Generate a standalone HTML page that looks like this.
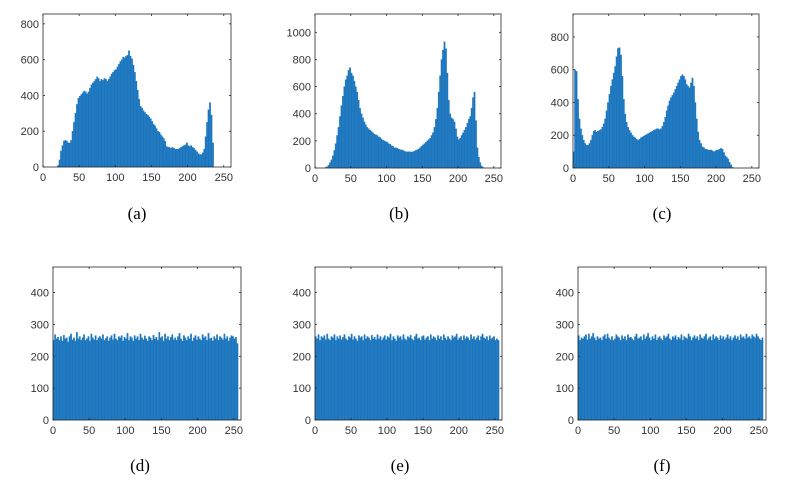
<!DOCTYPE html>
<html><head><meta charset="utf-8"><style>
body{margin:0;background:#fff;width:801px;height:489px;overflow:hidden}
svg{display:block}
</style></head><body>
<svg id="fig" width="801" height="489" xmlns="http://www.w3.org/2000/svg"></svg>
<script>
// bin width 2, bins start at x=0,2,4,...,254 (128 bins)
const binStarts = Array.from({length:128},(_,i)=>i*2);
const xTicks = [0,50,100,150,200,250];
const yTicksA = [0,200,400,600,800];
const yTicksB = [0,200,400,600,800,1000];
const yTicksC = [0,200,400,600,800];
const yTicksBottom = [0,100,200,300,400];
const valuesA = [0,0,0,0,0,0,0,0,0,0,
10,40,90,120,145,150,145,135,135,150,200,250,300,350,385,395,405,415,425,420,410,420,440,460,470,480,490,505,495,480,490,485,495,490,480,490,505,520,530,540,545,560,575,590,600,615,610,620,625,650,620,605,570,530,480,430,380,340,330,315,305,295,290,280,270,255,240,230,215,200,195,180,170,160,145,115,110,110,105,110,105,100,100,100,105,110,115,120,125,135,120,115,120,110,105,95,85,75,70,70,80,100,170,250,320,360,290,135];
const valuesB = [0,0,0,0,0,0,0,
5,10,20,40,60,90,130,180,240,300,380,460,530,600,650,680,720,740,700,680,640,600,560,500,440,400,370,340,320,300,290,280,270,260,250,245,240,230,225,215,205,200,195,190,180,175,165,160,150,150,145,140,135,135,130,125,120,120,120,120,118,120,125,130,135,140,150,160,170,180,190,200,210,220,240,260,300,360,440,560,680,800,870,930,880,700,500,400,370,360,340,290,230,210,220,240,260,280,300,330,360,380,440,520,560,350,150,80,40,15,5];
const valuesC = [100,600,590,420,300,240,200,170,150,140,140,150,170,200,225,230,220,225,230,235,250,270,300,350,400,450,500,540,580,620,680,730,735,690,560,420,330,280,250,230,215,200,190,185,175,170,175,185,190,195,200,205,210,215,220,225,230,235,240,240,235,240,255,280,310,350,380,410,430,445,460,480,500,520,540,560,570,560,540,510,500,490,520,550,500,400,300,220,170,150,130,125,115,115,110,110,110,105,100,105,110,110,115,120,115,95,75,65,55,35,20,5];
const valuesD = [250,268,255,260,250,262,248,266,255,258,245,262,270,252,258,248,275,255,262,250,258,268,250,255,262,248,270,258,252,265,250,258,262,255,268,250,256,262,248,258,265,252,270,255,250,262,258,265,248,260,255,272,250,262,258,248,265,255,262,250,270,258,252,264,255,248,262,258,250,266,255,260,250,275,258,262,248,270,255,262,250,260,268,252,258,250,262,272,255,248,265,258,250,262,255,270,248,258,265,252,262,255,250,268,258,262,250,272,255,258,248,262,255,268,250,262,258,252,270,255,262,248,258,265,262,255,260,240];
const valuesE = [262,255,268,250,262,258,265,252,270,255,250,262,258,268,250,262,255,265,252,260,268,255,250,262,258,270,252,262,255,248,265,258,262,250,268,255,262,258,250,266,255,260,252,268,255,262,250,258,265,252,262,258,270,250,262,255,248,265,258,262,252,268,255,250,262,258,266,255,250,262,270,255,258,250,262,265,252,258,262,250,268,255,262,258,250,265,255,262,250,268,258,252,262,255,250,265,258,262,270,252,258,262,250,265,255,262,258,250,268,255,262,252,258,265,250,262,270,258,255,262,250,265,255,258,262,250,255,250];
const valuesF = [265,250,258,255,262,268,252,270,255,262,272,258,250,262,255,258,250,262,268,255,270,258,252,262,250,255,268,262,258,250,265,255,262,250,268,258,260,255,250,262,270,255,258,262,250,268,255,262,272,258,250,262,255,268,250,258,262,255,250,265,258,262,270,255,250,262,258,265,252,260,255,268,250,262,258,255,270,262,250,258,265,255,262,250,268,258,255,262,270,252,258,262,250,268,255,262,258,250,265,255,262,252,258,268,255,262,250,258,265,255,262,250,268,258,262,255,270,258,262,255,268,262,258,270,262,255,250,258];

const svg = document.getElementById('fig');
const NS = 'http://www.w3.org/2000/svg';
function mk(tag, attrs, parent){const e=document.createElementNS(NS,tag);for(const k in attrs)e.setAttribute(k,attrs[k]);(parent||svg).appendChild(e);return e;}

function drawPanel(id, L, R, T, B, yMax, yTicks, values, caption, capX, capY){
  const g = mk('g',{});
  
  
  const xs = v => L + (R-L)*v/260;
  const ys = v => B - (B-T)*v/yMax;
  const bars = mk('g',{},g);
  
  
  for(let i=0;i<binStarts.length;i++){
    const v = values[i]||0; if(v<=0) continue;
    const x0 = xs(binStarts[i]), x1 = xs(binStarts[i]+2);
    const r = mk('rect',{x:x0,y:ys(v),width:x1-x0,height:B-ys(v),fill:'#1a75bd',stroke:'#2a7fc4','stroke-width':0.3},bars);
    
    
  }
  const box = mk('rect',{x:L,y:T,width:R-L,height:B-T,fill:'none',stroke:'#262626','stroke-width':0.8},g);
  
  
  xTicks.forEach(t=>{
    const x=xs(t);
    mk('line',{x1:x,y1:B,x2:x,y2:B-2,stroke:'#262626','stroke-width':0.8},g);
    mk('line',{x1:x,y1:T,x2:x,y2:T+2,stroke:'#262626','stroke-width':0.8},g);
    const tx=mk('text',{x:x,y:B+14,'text-anchor':'middle','font-size':11,fill:'#333','font-family':'Liberation Sans, sans-serif'},g);
    tx.textContent=t;
    
    
  });
  yTicks.forEach(t=>{
    const y=ys(t);
    mk('line',{x1:L,y1:y,x2:L+2,y2:y,stroke:'#262626','stroke-width':0.8},g);
    mk('line',{x1:R,y1:y,x2:R-2,y2:y,stroke:'#262626','stroke-width':0.8},g);
    const tx=mk('text',{x:L-4,y:y+4,'text-anchor':'end','font-size':11,fill:'#333','font-family':'Liberation Sans, sans-serif'},g);
    tx.textContent=t;
    
    
  });
  const c=mk('text',{x:capX,y:capY,'text-anchor':'middle','font-size':17,fill:'#000','font-family':'Liberation Serif, serif'},g);
  c.textContent=caption;
  
  
}
drawPanel('a',43,231,14,167,855,yTicksA,valuesA,'(a)',137,219);
drawPanel('b',315,501,14,168,1135,yTicksB,valuesB,'(b)',399,219);
drawPanel('c',573,759,14,168,940,yTicksC,valuesC,'(c)',662,219);
drawPanel('d',53,241,267,420,480,yTicksBottom,valuesD,'(d)',140,471);
drawPanel('e',315,502,267,420,480,yTicksBottom,valuesE,'(e)',400,471);
drawPanel('f',578,766,267,420,480,yTicksBottom,valuesF,'(f)',662,471);
</script>
</body></html>
